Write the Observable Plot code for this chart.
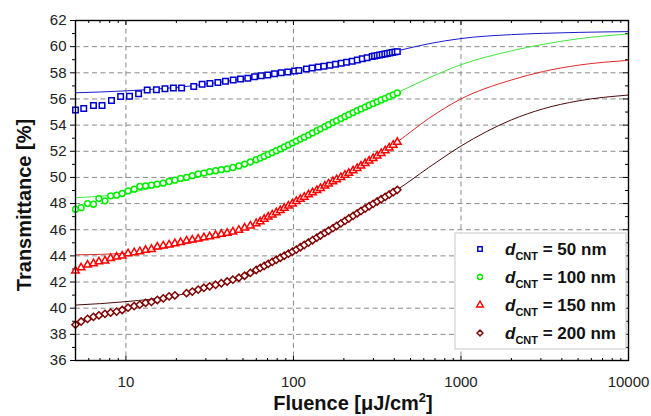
<!DOCTYPE html>
<html><head><meta charset="utf-8">
<script src="https://cdn.jsdelivr.net/npm/d3@7"></script>
<script src="https://cdn.jsdelivr.net/npm/@observablehq/plot@0.6"></script>
<style>
body{margin:0;background:#fff;}
svg{display:block;}
</style>
</head><body><div id="chart"></div>
<script>
// ---------- data ----------
const seriesLabels = ["50", "100", "150", "200"];

const fluence50 = [5.0, 5.6, 6.4, 7.2, 8.2, 9.3, 10.5, 11.9, 13.4, 15.2, 17.1, 19.2, 21.5, 25.4, 28.5, 31.7, 35.4, 39.3, 43.7, 48.3, 53.4, 58.6, 64.2, 70.3, 77.1, 84.5, 92.5, 101.5, 107.7, 119.6, 129.4, 140.6, 151.8, 164.9, 178.3, 192.8, 207.5, 224.3, 240.4, 257.6, 275.4, 295.1, 305, 316.2, 327, 338.8, 351, 363.1, 376, 389, 403, 417];
const trans50 = [55.15, 55.27, 55.5, 55.5, 55.88, 56.18, 56.2, 56.4, 56.68, 56.7, 56.78, 56.83, 56.83, 56.96, 57.12, 57.18, 57.26, 57.35, 57.45, 57.52, 57.58, 57.7, 57.78, 57.84, 57.92, 58.0, 58.07, 58.13, 58.18, 58.3, 58.37, 58.44, 58.51, 58.58, 58.65, 58.74, 58.81, 58.89, 58.98, 59.07, 59.15, 59.24, 59.28, 59.32, 59.36, 59.4, 59.44, 59.48, 59.52, 59.56, 59.6, 59.62];

const fluenceB = [5.0, 5.4, 5.9, 6.4, 6.9, 7.5, 8.1, 8.8, 9.5, 10.3, 11.2, 12.1, 13.1, 14.2, 15.4, 16.7, 18.1, 19.6, 21.2, 23.0, 24.9, 27.0, 29.2, 31.6, 34.3, 37.1, 40.2, 43.5, 47.2, 51.1, 55.3, 59.9, 63.3, 66.9, 70.7, 74.7, 79.0, 83.5, 88.2, 93.3, 98.6, 104, 110, 116, 123, 130, 138, 145, 154, 162, 172, 181, 192, 203, 214, 227, 240, 253, 268, 283, 299, 316, 334, 353, 373, 394, 417];
const trans100 = [47.56, 47.69, 48.0, 47.95, 48.38, 48.21, 48.59, 48.64, 48.77, 48.97, 49.1, 49.31, 49.36, 49.41, 49.49, 49.56, 49.69, 49.79, 49.92, 50.0, 50.13, 50.26, 50.33, 50.44, 50.51, 50.59, 50.66, 50.76, 50.88, 51.02, 51.18, 51.35, 51.48, 51.62, 51.76, 51.9, 52.04, 52.18, 52.33, 52.48, 52.63, 52.78, 52.93, 53.08, 53.24, 53.4, 53.57, 53.72, 53.88, 54.03, 54.2, 54.34, 54.5, 54.66, 54.8, 54.96, 55.11, 55.24, 55.38, 55.52, 55.65, 55.78, 55.92, 56.05, 56.19, 56.32, 56.46];
const trans150 = [42.85, 43.1, 43.31, 43.41, 43.56, 43.62, 43.82, 43.92, 44.0, 44.18, 44.26, 44.33, 44.44, 44.51, 44.69, 44.77, 44.85, 44.95, 45.03, 45.15, 45.22, 45.3, 45.4, 45.48, 45.58, 45.66, 45.74, 45.84, 45.98, 46.14, 46.3, 46.48, 46.62, 46.81, 46.98, 47.14, 47.31, 47.48, 47.65, 47.82, 47.99, 48.17, 48.34, 48.5, 48.68, 48.84, 49.02, 49.17, 49.35, 49.51, 49.69, 49.84, 50.01, 50.18, 50.33, 50.52, 50.7, 50.88, 51.07, 51.26, 51.46, 51.65, 51.85, 52.06, 52.27, 52.48, 52.7];
const trans200 = [38.74, 38.98, 39.18, 39.34, 39.45, 39.57, 39.66, 39.74, 39.86, 40.04, 40.16, 40.27, 40.41, 40.48, 40.63, 40.75, 40.9, 40.98, null, 41.15, 41.27, 41.42, 41.56, 41.67, 41.79, 41.91, 42.04, 42.18, 42.33, 42.48, 42.7, 42.92, 43.08, 43.23, 43.39, 43.54, 43.7, 43.86, 44.01, 44.17, 44.32, 44.48, 44.66, 44.83, 45.02, 45.2, 45.4, 45.56, 45.76, 45.92, 46.12, 46.29, 46.49, 46.68, 46.86, 47.06, 47.25, 47.43, 47.62, 47.8, 47.98, 48.16, 48.33, 48.51, 48.69, 48.87, 49.05];

const fitFluence = [5, 10, 20, 50, 100, 200, 300, 417, 641, 1000, 2000, 3100, 5000, 10000];
const fit50  = [56.47, 56.62, 56.88, 57.53, 58.12, 58.77, 59.25, 59.68, 60.22, 60.62, 60.92, 61.02, 61.09, 61.15];
const fit100 = [48.45, 48.78, 49.68, 50.97, 52.66, 54.6, 55.66, 56.48, 57.6, 58.62, 59.68, 60.18, 60.6, 60.97];
const fit150 = [44.08, 44.2, 44.8, 46.1, 48.03, 50.24, 51.47, 52.72, 54.5, 56.0, 57.45, 58.1, 58.58, 58.95];
const fit200 = [40.24, 40.5, 40.97, 42.45, 44.32, 46.55, 47.98, 49.07, 50.75, 52.4, 54.4, 55.25, 55.85, 56.3];

const xTickLabels = [10, 100, 1000, 10000];
const yTickLabels = [36, 38, 40, 42, 44, 46, 48, 50, 52, 54, 56, 58, 60, 62];

// ---------- styles ----------
const markerColors = ["#0000cc", "#00ee00", "#ff0000", "#800000"];
const lineColors   = ["#1a1ad0", "#3ee83e", "#e02828", "#4a0a0a"];
const diamondSym = {draw(ctx, size){ const r = Math.sqrt(size) * 0.66; ctx.moveTo(0,-r); ctx.lineTo(r,0); ctx.lineTo(0,r); ctx.lineTo(-r,0); ctx.closePath(); }};
const symbols = [d3.symbolSquare, d3.symbolCircle, d3.symbolTriangle, diamondSym];
const radii = [3.1, 2.9, 2.8, 3.1];

const series = [
  {fluence: fluence50, trans: trans50, fit: fit50},
  {fluence: fluenceB, trans: trans100, fit: fit100},
  {fluence: fluenceB, trans: trans150, fit: fit150},
  {fluence: fluenceB, trans: trans200, fit: fit200}
].map((s, i) => ({
  ...s,
  label: seriesLabels[i],
  rows: s.fluence.map((f, j) => ({f, t: s.trans[j]})).filter(d => d.t != null),
  fitRows: fitFluence.map((f, j) => ({f, t: s.fit[j]})),
  color: markerColors[i], lineColor: lineColors[i], symbol: symbols[i], r: radii[i]
}));

// minor tick positions
const xMinor = [];
for (const dec of [1, 10, 100, 1000]) for (let k = 2; k <= 9; k++) { const v = dec * k; if (v >= 5 && v < 10000) xMinor.push(v); }
const yMinor = d3.range(37, 62, 2);
const xGrid = [10, 100, 1000];
const yGrid = d3.range(38, 62, 2);

const font = "'Liberation Sans', Arial, sans-serif";

const chart = Plot.plot({
  width: 651, height: 416,
  marginLeft: 75, marginRight: 23, marginTop: 20, marginBottom: 56,
  style: {fontFamily: font, color: "#222", background: "#fff"},
  x: {type: "log", domain: [5, 10000], label: null},
  y: {domain: [36, 62], label: null},
  marks: [
    Plot.gridX(xGrid, {stroke: "#8a8a8a", strokeOpacity: 1, strokeDasharray: "5,3.5"}),
    Plot.gridY(yGrid, {stroke: "#8a8a8a", strokeOpacity: 1, strokeDasharray: "5,3.5"}),
    // left axis: outward ticks + labels
    Plot.axisY(yTickLabels, {anchor: "left", tickSize: 5, tickPadding: 4, fontSize: 15, label: null, stroke: "#000"}),
    Plot.axisY(yMinor, {anchor: "left", tickSize: 3, fill: "none", label: null, stroke: "#000"}),
    // right axis: inward ticks
    Plot.axisY(yTickLabels, {anchor: "left", frameAnchor: "right", tickSize: 5, fill: "none", label: null, stroke: "#000"}),
    Plot.axisY(yMinor, {anchor: "left", frameAnchor: "right", tickSize: 3, fill: "none", label: null, stroke: "#000"}),
    // bottom axis: inward ticks + labels
    Plot.axisX(xTickLabels, {anchor: "top", frameAnchor: "bottom", tickSize: 5, fill: "none", label: null, stroke: "#000"}),
    Plot.axisX(xMinor, {anchor: "top", frameAnchor: "bottom", tickSize: 3, fill: "none", label: null, stroke: "#000"}),
    Plot.axisX(xTickLabels, {anchor: "bottom", tickSize: 0, tickPadding: 16, fontSize: 15, tickFormat: d => String(d), label: null}),
    // top axis: inward ticks
    Plot.axisX(xTickLabels, {anchor: "bottom", frameAnchor: "top", tickSize: 5, fill: "none", label: null, stroke: "#000"}),
    Plot.axisX(xMinor, {anchor: "bottom", frameAnchor: "top", tickSize: 3, fill: "none", label: null, stroke: "#000"}),
    // fit lines
    ...series.map(s => Plot.line(s.fitRows, {x: "f", y: "t", stroke: s.lineColor, strokeWidth: 1, curve: "monotone-x"})),
    // data markers
    ...series.map(s => Plot.dot(s.rows, {x: "f", y: "t", symbol: s.symbol, r: s.r, stroke: s.color, fill: "white", strokeWidth: 1.5})),
    Plot.frame({stroke: "#000", strokeWidth: 1.4})
  ]
});

const svg = d3.select(chart);

// axis titles
const xt = svg.append("text")
  .attr("x", 353).attr("y", 410)
  .attr("text-anchor", "middle")
  .style("font-family", font).style("font-weight", "bold").style("font-size", "20px").attr("fill", "#111");
xt.append("tspan").text("Fluence [μJ/cm");
xt.append("tspan").text("2").attr("dy", -8).style("font-size", "13px");
xt.append("tspan").text("]").attr("dy", 8);

svg.append("text")
  .attr("transform", "translate(31,205) rotate(-90)")
  .attr("text-anchor", "middle")
  .style("font-family", font).style("font-weight", "bold").style("font-size", "20px").attr("fill", "#111")
  .text("Transmittance [%]");

// legend
const lg = svg.append("g").attr("text-anchor", "start");
lg.append("rect").attr("x", 455).attr("y", 233).attr("width", 171).attr("height", 116)
  .attr("fill", "white").attr("stroke", "#c8c8c8").attr("stroke-width", 1);
series.forEach((s, i) => {
  const cy = 249 + i * 28;
  const size = Math.PI * 2.5 * 2.5;
  lg.append("path").attr("d", d3.symbol(s.symbol, size)())
    .attr("transform", `translate(480,${cy})`)
    .attr("fill", "white").attr("stroke", s.color).attr("stroke-width", 1.4);
  const t = lg.append("text").attr("x", 505).attr("y", cy + 6).attr("text-anchor", "start")
    .style("font-family", font).style("font-weight", "bold").style("font-size", "17px").attr("fill", "#111");
  t.append("tspan").text("d").style("font-style", "italic");
  t.append("tspan").text("CNT").attr("dy", 5).style("font-size", "11px");
  t.append("tspan").text(` = ${s.label} nm`).attr("dy", -5);
});

document.getElementById("chart").appendChild(chart);
</script>
</body></html>
